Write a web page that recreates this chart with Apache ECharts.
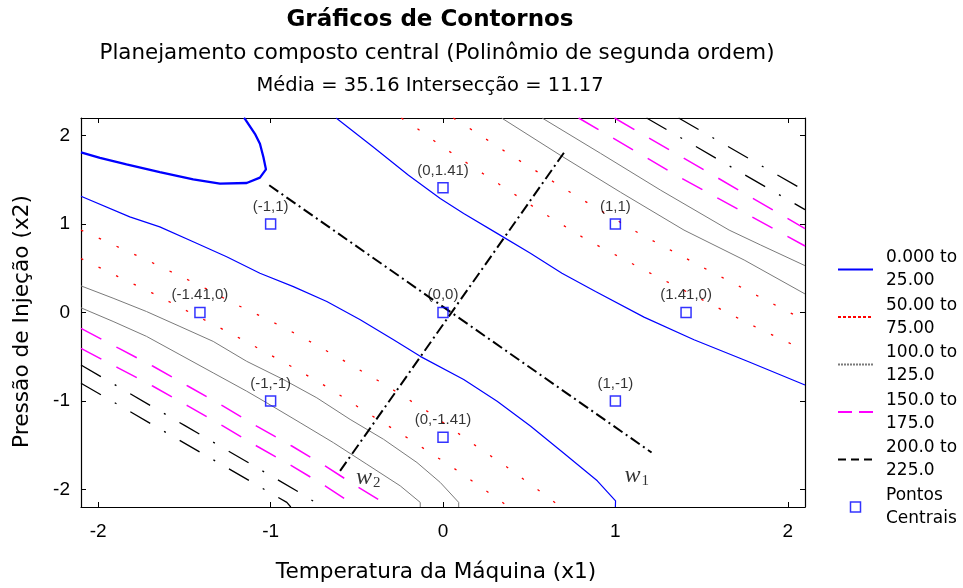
<!DOCTYPE html>
<html>
<head>
<meta charset="utf-8">
<script src="https://cdn.jsdelivr.net/npm/echarts@6/dist/echarts.min.js"></script>
<style>html,body{margin:0;padding:0;background:#fff}#chart{width:963px;height:588px}</style>
</head>
<body>
<div id="chart"></div>
<script>
// ---------- data ----------
const xTicks = [-2, -1, 0, 1, 2];
const yTicks = [-2, -1, 0, 1, 2];

const legendNames = ['0.000 to 25.00', '50.00 to 75.00', '100.0 to 125.0', '150.0 to 175.0', '200.0 to 225.0', 'Pontos Centrais'];

// level 25 (blue) – lower-left and upper-right branches
const blue25Low = [[-2.1,1.315],[-1.817,1.082],[-1.643,0.969],[-1.449,0.8],[-1.255,0.631],[-1.062,0.444],[-0.868,0.293],[-0.674,0.124],[-0.48,-0.082],[-0.287,-0.308],[-0.132,-0.496],[0.12,-0.758],[0.314,-1.003],[0.507,-1.284],[0.701,-1.592],[0.895,-1.904],[1.001,-2.13],[1.0,-2.2]];
const blue25High = [[-0.62,2.2],[-0.403,1.87],[-0.2,1.552],[-0.016,1.289],[0.12,1.12],[0.314,0.895],[0.507,0.669],[0.69,0.444],[0.885,0.237],[1.166,-0.052],[1.456,-0.308],[1.766,-0.552],[2.1,-0.82]];
// level 0 (blue, thick) – upper-left corner
const blue0 = [[-2.1,1.81],[-1.99,1.75],[-1.836,1.676],[-1.643,1.589],[-1.449,1.506],[-1.294,1.458],[-1.139,1.465],[-1.062,1.526],[-1.027,1.619],[-1.042,1.758],[-1.062,1.909],[-1.091,2.021],[-1.149,2.19],[-1.155,2.2]];

// levels 50 / 75 (red dotted)
const red50Low = [[-2.1,0.932],[-1.981,0.827],[-1.691,0.568],[-1.395,0.29],[-1.217,0.106],[-1.013,-0.082],[-0.819,-0.277],[-0.636,-0.477],[-0.354,-0.796],[-0.093,-1.115],[0.178,-1.491],[0.362,-1.735],[0.623,-2.11],[0.682,-2.2]];
const red75Low = [[-2.1,0.611],[-1.885,0.406],[-1.691,0.225],[-1.497,0.03],[-1.217,-0.251],[-1.023,-0.457],[-0.839,-0.654],[-0.655,-0.863],[-0.471,-1.096],[-0.2,-1.426],[0.071,-1.772],[0.333,-2.13],[0.379,-2.2]];
const red50High = [[-0.242,2.2],[-0.161,2.096],[0.013,1.852],[0.11,1.728],[0.555,1.157],[0.837,0.819],[1.214,0.433],[1.505,0.143],[1.786,-0.138],[2.1,-0.43]];
const red75High = [[0.06,2.2],[0.12,2.126],[0.395,1.777],[0.759,1.334],[1.131,0.902],[1.511,0.507],[1.795,0.219],[2.1,-0.09]];

// levels 100 / 125 (grey)
const grey100Low = [[-2.1,0.301],[-1.914,0.162],[-1.72,0.011],[-1.526,-0.158],[-1.333,-0.327],[-1.139,-0.552],[-0.926,-0.758],[-0.732,-0.965],[-0.539,-1.209],[-0.345,-1.434],[-0.151,-1.697],[-0.016,-1.922],[0.091,-2.148],[0.091,-2.2]];
const grey125Low = [[-2.1,0.053],[-1.914,-0.101],[-1.72,-0.27],[-1.526,-0.477],[-1.333,-0.683],[-1.139,-0.89],[-1.023,-1.021],[-0.829,-1.246],[-0.636,-1.472],[-0.442,-1.716],[-0.248,-1.961],[-0.132,-2.148],[-0.132,-2.2]];
const grey100High = [[0.34,2.2],[0.682,1.777],[1.03,1.36],[1.398,0.932],[1.747,0.594],[2.1,0.21]];
const grey125High = [[0.575,2.2],[0.914,1.8],[1.263,1.383],[1.66,0.932],[1.843,0.763],[2.1,0.53]];

// levels 150 / 175 (magenta dashed)
const mag150Low = [[-2.1,-0.18],[-1.885,-0.401],[-1.682,-0.608],[-1.478,-0.834],[-1.275,-1.059],[-1.081,-1.285],[-0.877,-1.51],[-0.684,-1.735],[-0.49,-1.979],[-0.303,-2.2]];
const mag175Low = [[-2.1,-0.406],[-1.885,-0.626],[-1.682,-0.834],[-1.478,-1.059],[-1.275,-1.285],[-1.081,-1.51],[-0.877,-1.735],[-0.684,-1.961],[-0.498,-2.2]];
const mag150High = [[0.787,2.2],[1.369,1.535],[2.1,0.752]];
const mag175High = [[0.995,2.2],[1.369,1.777],[2.1,0.949]];

// levels 200 / 225 (black dash-dot)
const blk200Low = [[-2.1,-0.594],[-1.497,-1.28],[-0.8,-2.073],[-0.701,-2.2]];
const blk225Low = [[-2.1,-0.8],[-0.906,-2.148],[-0.883,-2.2]];
const blk200High = [[1.181,2.2],[2.1,1.163]];
const blk225High = [[1.367,2.2],[2.1,1.376]];

// principal axes w1, w2
const axisW1 = [[-1.008,1.439],[1.21,-1.584]];
const axisW2 = [[-0.597,-1.792],[0.711,1.833]];
const wLabelPos = [[1.124,-1.839],[-0.434,-1.862]];
const wLabelSub = ['1', '2'];

// design points
const points = [[-1,1],[0,1.41],[1,1],[-1.41,0],[0,0],[1.41,0],[-1,-1],[1,-1],[0,-1.41]];
const pointLabels = ['(-1,1)','(0,1.41)','(1,1)','(-1.41,0)','(0,0)','(1.41,0)','(-1,-1)','(1,-1)','(0,-1.41)'];

// ---------- styles ----------
const styleBlue = {color:'#0000ff', width:1.2, type:'solid'};
const styleRed = {color:'#ff0000', width:1.3, type:[2.5,17]};
const styleGrey = {color:'#7a7a7a', width:1, type:'solid'};
const styleMag = {color:'#ff00ff', width:1.5, type:[23,17]};
const styleBlk = {color:'#000000', width:1.3, type:[23,16,2,16]};

function contour(name, data, ls) {
  return {
    type:'line', name:name, data:data, showSymbol:false, symbol:'none',
    lineStyle:ls, itemStyle:{color:ls.color}, silent:true, z:2, clip:true
  };
}

const series = [
  contour(legendNames[0], blue25Low, styleBlue),
  contour(legendNames[0], blue25High, styleBlue),
  contour(legendNames[0], blue0, Object.assign({}, styleBlue, {width:2.3})),
  contour(legendNames[1], red50Low, styleRed),
  contour(legendNames[1], red75Low, styleRed),
  contour(legendNames[1], red50High, styleRed),
  contour(legendNames[1], red75High, styleRed),
  contour(legendNames[2], grey100Low, styleGrey),
  contour(legendNames[2], grey125Low, styleGrey),
  contour(legendNames[2], grey100High, styleGrey),
  contour(legendNames[2], grey125High, styleGrey),
  contour(legendNames[3], mag150Low, styleMag),
  contour(legendNames[3], mag175Low, styleMag),
  contour(legendNames[3], mag150High, styleMag),
  contour(legendNames[3], mag175High, styleMag),
  contour(legendNames[4], blk200Low, styleBlk),
  contour(legendNames[4], blk225Low, styleBlk),
  contour(legendNames[4], blk200High, styleBlk),
  contour(legendNames[4], blk225High, styleBlk),
  {type:'line', name:'w1', data:axisW1, showSymbol:false, symbol:'none', silent:true, z:3,
   lineStyle:{color:'#000', width:2, type:[11,4,2,4]}},
  {type:'line', name:'w2', data:axisW2, showSymbol:false, symbol:'none', silent:true, z:3,
   lineStyle:{color:'#000', width:2, type:[11,4,2,4]}},
  {type:'scatter', name:'wlabels', data:wLabelPos, symbolSize:1, silent:true, z:6,
   itemStyle:{color:'rgba(0,0,0,0)'},
   label:{show:true, position:'inside',
     formatter:(p)=>'{w|w}{s|' + wLabelSub[p.dataIndex] + '}',
     rich:{
       w:{fontFamily:'Liberation Serif', fontStyle:'italic', fontSize:24, color:'#000', lineHeight:26, verticalAlign:'bottom'},
       s:{fontFamily:'Liberation Serif', fontSize:15, color:'#000', lineHeight:18, verticalAlign:'bottom', padding:[0,0,0,1]}
     }}},
  {type:'scatter', name:legendNames[5], data:points, symbol:'rect', symbolSize:10, z:5,
   itemStyle:{color:'rgba(255,255,255,0)', borderColor:'#0000ff', borderWidth:1.5},
   label:{show:true, position:'top', distance:4,
     formatter:(p)=>pointLabels[p.dataIndex],
     fontFamily:'Liberation Sans', fontSize:15, color:'#000'}}
];

const axisLineStyle = {show:true, onZero:false, lineStyle:{color:'#000', width:1.2}};
const hideSym = {opacity:0};

const option = {
  animation:false,
  backgroundColor:'#fff',
  grid:{left:81, top:118, width:724, height:389.5, containLabel:false},
  graphic:[
    {type:'text', x:430, y:20, style:{text:'Gráficos de Contornos', fontFamily:'DejaVu Sans', fontWeight:'bold', fontSize:23, fill:'#000', align:'center', verticalAlign:'middle'}},
    {type:'text', x:437, y:53, style:{text:'Planejamento composto central (Polinômio de segunda ordem)', fontFamily:'DejaVu Sans', fontSize:21.4, fill:'#000', align:'center', verticalAlign:'middle'}},
    {type:'text', x:430, y:86, style:{text:'Média = 35.16 Intersecção = 11.17', fontFamily:'DejaVu Sans', fontSize:19.5, fill:'#000', align:'center', verticalAlign:'middle'}}
  ],
  legend:{
    orient:'vertical', left:837, top:235, padding:0,
    itemWidth:35, itemHeight:10, itemGap:-21.5, selectedMode:false,
    formatter:(n)=>n.replace(' to ', ' to\n').replace('Pontos ', 'Pontos\n'),
    textStyle:{fontFamily:'DejaVu Sans', fontSize:17, color:'#000', lineHeight:23, padding:[23,0,0,8]},
    data:[
      {name:legendNames[0], itemStyle:hideSym},
      {name:legendNames[1], itemStyle:hideSym, lineStyle:{type:[3,2]}},
      {name:legendNames[2], itemStyle:hideSym, lineStyle:{type:[2,1]}},
      {name:legendNames[3], itemStyle:hideSym, lineStyle:{type:[14,7]}},
      {name:legendNames[4], itemStyle:hideSym, lineStyle:{type:[8,5]}},
      {name:legendNames[5], icon:'path://M0,0M35,10M12.5,0L22.5,0L22.5,10L12.5,10Z',
       itemStyle:{borderWidth:1.5, borderColor:'#0000ff', color:'rgba(255,255,255,0)'}}
    ]
  },
  xAxis:[
    {type:'value', position:'bottom', min:-2.1, max:2.1,
     axisLine:axisLineStyle,
     axisTick:{show:true, inside:true, length:5, customValues:xTicks, lineStyle:{color:'#000'}},
     axisLabel:{show:true, customValues:xTicks, margin:15, fontFamily:'Liberation Sans', fontSize:19, color:'#000'},
     splitLine:{show:false},
     name:'Temperatura da Máquina (x1)', nameLocation:'middle', nameGap:54,
     nameTextStyle:{fontFamily:'DejaVu Sans', fontSize:21.6, color:'#000', padding:[0,14,0,0]}},
    {type:'value', position:'top', min:-2.1, max:2.1,
     axisLine:axisLineStyle,
     axisTick:{show:true, inside:true, length:5, customValues:xTicks, lineStyle:{color:'#000'}},
     axisLabel:{show:false}, splitLine:{show:false}}
  ],
  yAxis:[
    {type:'value', position:'left', min:-2.2, max:2.2,
     axisLine:axisLineStyle,
     axisTick:{show:true, inside:true, length:5, customValues:yTicks, lineStyle:{color:'#000'}},
     axisLabel:{show:true, customValues:yTicks, margin:11, fontFamily:'Liberation Sans', fontSize:19, color:'#000'},
     splitLine:{show:false},
     name:'Pressão de Injeção (x2)', nameLocation:'middle', nameGap:48,
     nameTextStyle:{fontFamily:'DejaVu Sans', fontSize:21.7, color:'#000', padding:[0,18,0,0]}},
    {type:'value', position:'right', min:-2.2, max:2.2,
     axisLine:axisLineStyle,
     axisTick:{show:true, inside:true, length:5, customValues:yTicks, lineStyle:{color:'#000'}},
     axisLabel:{show:false}, splitLine:{show:false}}
  ],
  series:series
};

const chart = echarts.init(document.getElementById('chart'), null, {renderer:'canvas'});
chart.setOption(option);
</script>
</body>
</html>
